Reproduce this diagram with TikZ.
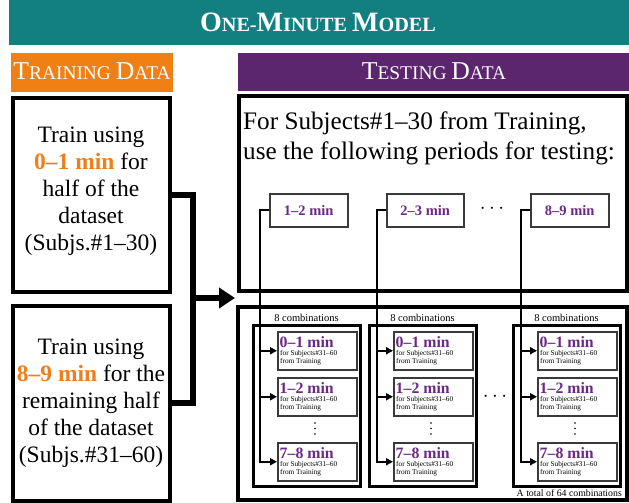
\documentclass[tikz,border=0pt]{standalone}
\usepackage{fontspec}
\setmainfont{Liberation Serif}
\usetikzlibrary{arrows.meta,calc}
\definecolor{teal1}{HTML}{128080}
\definecolor{orng}{HTML}{F08014}
\definecolor{purp}{HTML}{5C266E}
\definecolor{ptext}{HTML}{6A2A84}
\definecolor{otext}{HTML}{F07F1A}
\definecolor{gbord}{HTML}{3A3A3A}
\newcommand{\Lsz}[1]{{\fontsize{28}{28}\selectfont #1}}
\newcommand{\Lhd}[1]{{\fontsize{25.7}{25.7}\selectfont #1}}
\begin{document}
\begin{tikzpicture}[x=1pt,y=-1pt,
  band/.style={draw=none,anchor=north west,inner sep=0,outer sep=0,text=white},
  bigbox/.style={draw=black,line width=4pt,anchor=north west,inner sep=0,outer sep=0,fill=white},
  grpbox/.style={draw=black,line width=3pt,anchor=north west,inner sep=0,outer sep=0},
  subbox/.style={draw=gbord,line width=1.5pt,anchor=north west,inner sep=0,fill=white,minimum width=79pt,minimum height=38pt},
  topbox/.style={draw=gbord,line width=1.5pt,anchor=north west,inner sep=0,fill=white,minimum height=33pt,font=\fontsize{14.5}{15}\selectfont\bfseries,text=ptext},
  bigconn/.style={line width=6pt,line join=miter},
  conn/.style={line width=2pt},
  tip/.style={-{Triangle[length=7pt,width=7pt]}},
  lbl/.style={inner sep=0}
]
\useasboundingbox (0,0) rectangle (629,503);

% header bands
\node[band,fill=teal1,minimum width=620pt,minimum height=45pt] (title) at (9,0) {};
\node[lbl,text=white,anchor=base,font=\fontsize{20.2}{20.2}\selectfont\bfseries] (title-t) at (318,32)
  {\Lsz{O}NE-\Lsz{M}INUTE \Lsz{M}ODEL};
\node[band,fill=orng,minimum width=162pt,minimum height=39pt] (train) at (11,53) {};
\node[lbl,text=white,anchor=base,font=\fontsize{19.4}{19.4}\selectfont] (train-t) at (92,79.5) {\Lhd{T}RAINING \Lhd{D}ATA};
\node[band,fill=purp,minimum width=391pt,minimum height=38pt] (test) at (238,53) {};
\node[lbl,text=white,anchor=base,font=\fontsize{19.4}{19.4}\selectfont] (test-t) at (434,79.5) {\Lhd{T}ESTING \Lhd{D}ATA};

% big boxes
\node[bigbox,minimum width=157.5pt,minimum height=194pt] (lt) at (12.5,98) {};
\node[bigbox,minimum width=157.5pt,minimum height=195pt] (lb) at (12.5,305.5) {};
\node[bigbox,minimum width=388.5pt,minimum height=195pt] (tr) at (238.5,96) {};
\node[bigbox,minimum width=389.5pt,minimum height=193.5pt] (br) at (237.5,306.5) {};

% left texts
\node[lbl,align=center,font=\fontsize{23.5}{27}\selectfont] (lt-t) at (91,191)
  {Train using\\{\color{otext}\bfseries 0–1 min} for\\half of the\\dataset\\(Subjs.\#1–30)};
\node[lbl,align=center,font=\fontsize{23.5}{27}\selectfont] (lb-t) at (91,403)
  {Train using\\{\color{otext}\bfseries 8–9 min} for the\\remaining half\\of the dataset\\(Subjs.\#31–60)};

% top right text
\node[lbl,anchor=west,align=left,font=\fontsize{25.2}{30}\selectfont] (tr-t) at (243,138)
  {For Subjects\#1–30 from Training,\\use the following periods for testing:};

% top period boxes
\node[topbox,minimum width=78pt] (t1) at (269,193) {1–2 min};
\node[topbox,minimum width=77pt] (t2) at (386,193) {2–3 min};
\node[topbox,minimum width=78pt] (t3) at (530,193) {8–9 min};
\node[lbl,font=\fontsize{20}{20}\selectfont] (tdots) at (492,209) {$\cdots$};

% groups
\foreach \g/\gx in {1/253,2/369,3/513} {
  \node[grpbox,minimum width=107pt,minimum height=161pt] (g\g) at (\gx,325) {};
  \node[lbl,font=\fontsize{10.5}{11}\selectfont] (g\g-cap) at (\gx+53.5,317.5) {8 combinations};
  \foreach \r/\ry/\lab in {a/331/0–1 min,b/377/1–2 min,c/442/7–8 min} {
    \node[subbox] (g\g\r) at (\gx+24,\ry) {};
    \node[lbl,anchor=base west,font=\fontsize{15.8}{16}\selectfont\bfseries,text=ptext] (g\g\r-t) at (\gx+26.5,\ry+16) {\lab};
    \node[lbl,anchor=base west,font=\fontsize{7.3}{8}\selectfont] (g\g\r-s1) at (\gx+27,\ry+24) {for Subjects\#31–60};
    \node[lbl,anchor=base west,font=\fontsize{7.3}{8}\selectfont] (g\g\r-s2) at (\gx+27,\ry+32) {from Training};
  }
  \foreach \dy in {423,428.5,434} {
    \fill (\gx+62,\dy) circle[radius=0.9];
  }
}
\node[lbl,font=\fontsize{20}{20}\selectfont] (bdots) at (495,397) {$\cdots$};
\node[lbl,anchor=east,font=\fontsize{9.8}{10}\selectfont] (total) at (622,493) {A total of 64 combinations};

% big connector
\coordinate (jn) at (193,298);
\coordinate (arrtip) at (235,298);
\draw[bigconn] (lt.east) -| (jn |- lb.east) -- (lb.east);
\draw[line width=6pt,-{Triangle[length=16pt,width=20pt]}] (jn) -- (arrtip);

% thin connectors
\foreach \g/\vx in {1/260,2/377,3/521} {
  \coordinate (v\g) at (\vx,0);
  \draw[conn,tip] (t\g.west) -| (v\g |- g\g c.west) -- (g\g c.west);
  \draw[conn,tip] (v\g |- g\g a.west) -- (g\g a.west);
  \draw[conn,tip] (v\g |- g\g b.west) -- (g\g b.west);
}
\end{tikzpicture}
\end{document}
